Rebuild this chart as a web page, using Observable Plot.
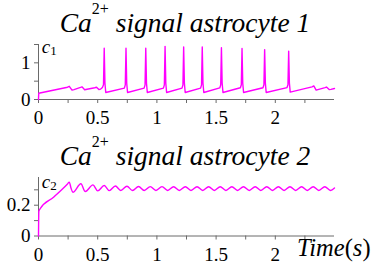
<!DOCTYPE html>
<html>
<head>
<meta charset="utf-8">
<script src="https://cdn.jsdelivr.net/npm/d3@7"></script>
<script src="https://cdn.jsdelivr.net/npm/@observablehq/plot@0.6"></script>
<style>
  body { margin: 0; }
  #wrap { position: relative; width: 374px; height: 267px; }
  #top { position: absolute; left: 0; top: 0; }
  #bot { position: absolute; left: 0; top: 130px; }
  #overlay { position: absolute; left: 0; top: 0; }
</style>
</head>
<body>
<div id="wrap">
  <div id="top"></div>
  <div id="bot"></div>
  <svg id="overlay" width="374" height="267"></svg>
</div>
<script>
// ---- data ----
const titles = ["signal astrocyte 1", "signal astrocyte 2"];
const yLabels = ["c", "c"];
const ySubs = ["1", "2"];
const xTitle = ["Time", "(", "s", ")"];

const xTicks = [0, 0.25, 0.5, 0.75, 1, 1.25, 1.5, 1.75, 2, 2.25];
const xTickLabels = [0, 0.5, 1, 1.5, 2];
const yTicks1 = [0, 0.5, 1, 1.5];
const yTickLabels1 = [0, 1];
const yTicks2 = [0, 0.1, 0.2, 0.3];
const yTickLabels2 = [0, 0.2];

// astrocyte 1 calcium trace
const t1 = [
  0, 0.002, 0.245, 0.26, 0.283, 0.30, 0.355, 0.367, 0.39, 0.41, 0.475, 0.49, 0.51, 0.525, 0.54,
  0.549, 0.555, 0.561, 0.568,
  0.725, 0.733, 0.739, 0.745, 0.752,
  0.892, 0.900, 0.906, 0.912, 0.919,
  1.055, 1.063, 1.069, 1.075, 1.082,
  1.212, 1.220, 1.226, 1.232, 1.239,
  1.369, 1.377, 1.383, 1.389, 1.396,
  1.531, 1.539, 1.545, 1.551, 1.558,
  1.705, 1.713, 1.719, 1.725, 1.732,
  1.896, 1.904, 1.910, 1.916, 1.923,
  2.099, 2.107, 2.113, 2.119, 2.126,
  2.31, 2.325, 2.345, 2.36, 2.42, 2.432, 2.455, 2.47, 2.50
];
const c1 = [
  0, 0.17, 0.335, 0.36, 0.255, 0.27, 0.33, 0.345, 0.265, 0.28, 0.32, 0.335, 0.27, 0.285, 0.33,
  0.40, 1.40, 0.45, 0.19,
  0.31, 0.40, 1.40, 0.45, 0.19,
  0.31, 0.40, 1.40, 0.45, 0.19,
  0.31, 0.40, 1.45, 0.45, 0.19,
  0.31, 0.40, 1.43, 0.45, 0.19,
  0.31, 0.40, 1.43, 0.45, 0.19,
  0.315, 0.40, 1.41, 0.45, 0.19,
  0.32, 0.40, 1.39, 0.45, 0.19,
  0.32, 0.40, 1.36, 0.45, 0.19,
  0.325, 0.40, 1.32, 0.45, 0.20,
  0.345, 0.37, 0.255, 0.27, 0.325, 0.34, 0.27, 0.275, 0.30
];

// astrocyte 2 calcium trace
const t2 = [
  0, 0.003, 0.014, 0.127, 0.198, 0.245, 0.26, 0.275, 0.29,
  0.358, 0.395, 0.460, 0.500, 0.555, 0.598, 0.649, 0.695, 0.747, 0.794,
  0.845, 0.893, 0.944, 0.992, 1.043, 1.091, 1.141, 1.189, 1.240, 1.288,
  1.339, 1.387, 1.437, 1.485, 1.535, 1.583, 1.633, 1.681, 1.731, 1.780,
  1.830, 1.878, 1.928, 1.976, 2.026, 2.074, 2.124, 2.172, 2.222, 2.270,
  2.320, 2.368, 2.418, 2.466, 2.50
];
const c2 = [
  0, 0.16, 0.177, 0.252, 0.302, 0.338, 0.35, 0.31, 0.284,
  0.339, 0.289, 0.332, 0.293, 0.328, 0.295, 0.325, 0.296, 0.323, 0.296,
  0.322, 0.296, 0.321, 0.296, 0.321, 0.296, 0.320, 0.296, 0.320, 0.296,
  0.320, 0.296, 0.320, 0.296, 0.320, 0.296, 0.320, 0.296, 0.320, 0.296,
  0.320, 0.296, 0.320, 0.296, 0.320, 0.296, 0.320, 0.296, 0.320, 0.296,
  0.320, 0.296, 0.320, 0.296, 0.312
];

// ---- drawing ----
const FONT = "Liberation Serif";
const AXIS = "#6a6a6a";
const LINE = "#ff00ff";

function panel({height, marginTop, marginBottom, yDomain, yTicks, yTickLabels, t, c, curve}) {
  return Plot.plot({
    width: 374,
    height,
    marginLeft: 38,
    marginRight: 40,
    marginTop,
    marginBottom,
    style: {fontFamily: FONT, fontSize: "19px"},
    x: {domain: [0, 2.5]},
    y: {domain: yDomain},
    marks: [
      Plot.axisX(xTicks, {
        tickSize: 4, tickPadding: 7, stroke: AXIS, fill: "black", fontFamily: FONT, fontSize: 19,
        tickFormat: d => xTickLabels.includes(d) ? String(d) : "", label: null
      }),
      Plot.axisY(yTicks, {
        tickSize: 4, tickPadding: 4, stroke: AXIS, fill: "black", fontFamily: FONT, fontSize: 19,
        tickFormat: d => yTickLabels.includes(d) ? String(d) : "", label: null
      }),
      Plot.ruleY([yDomain[0]], {stroke: AXIS, strokeWidth: 1}),
      Plot.ruleX([0], {stroke: AXIS, strokeWidth: 1}),
      Plot.line(c, {x: t, y: c, stroke: LINE, strokeWidth: 1.4, curve})
    ]
  });
}

document.getElementById("top").appendChild(panel({
  height: 130, marginTop: 44, marginBottom: 31, yDomain: [0, 1.5],
  yTicks: yTicks1, yTickLabels: yTickLabels1, t: t1, c: c1, curve: "linear"
}));
document.getElementById("bot").appendChild(panel({
  height: 137, marginTop: 47, marginBottom: 31.5, yDomain: [0, 0.38],
  yTicks: yTicks2, yTickLabels: yTickLabels2, t: t2, c: c2, curve: "monotone-x"
}));

// titles and labels
const ov = d3.select("#overlay");
function addTitle(y, rest) {
  const el = ov.append("text").attr("x", 185).attr("y", y).attr("text-anchor", "middle")
    .attr("font-family", FONT).attr("font-size", 27.5).attr("font-style", "italic");
  el.append("tspan").text("Ca");
  el.append("tspan").attr("font-size", 16).attr("font-style", "normal").attr("dy", -18).text("2+");
  el.append("tspan").attr("dy", 18).text(" " + rest);
}
addTitle(31.7, titles[0]);
addTitle(165, titles[1]);

function addLab(y, main, sub) {
  const el = ov.append("text").attr("x", 41.7).attr("y", y)
    .attr("font-family", FONT).attr("font-size", 19).attr("font-style", "italic");
  el.append("tspan").text(main);
  el.append("tspan").attr("font-size", 13).attr("font-style", "normal").attr("dy", 2.6).text(sub);
}
addLab(52.5, yLabels[0], ySubs[0]);
addLab(187.5, yLabels[1], ySubs[1]);

const xl = ov.append("text").attr("x", 297).attr("y", 256).attr("font-family", FONT).attr("font-size", 24.5);
xl.append("tspan").attr("font-style", "italic").text(xTitle[0]);
xl.append("tspan").text(xTitle[1]);
xl.append("tspan").attr("font-style", "italic").text(xTitle[2]);
xl.append("tspan").text(xTitle[3]);
</script>
</body>
</html>
